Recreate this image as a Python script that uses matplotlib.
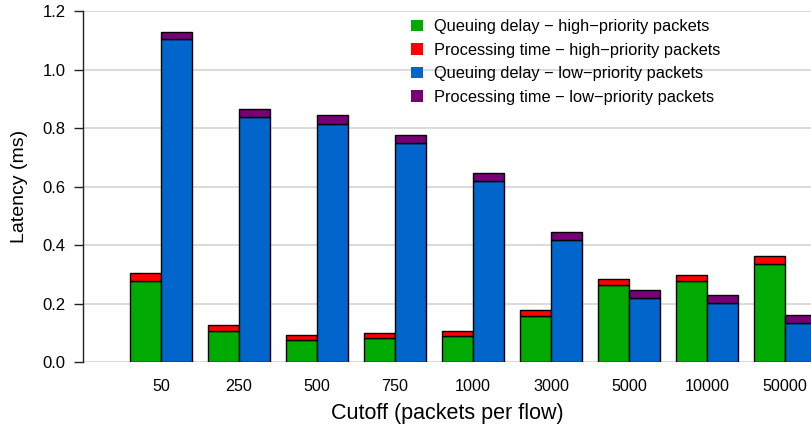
import matplotlib
matplotlib.use("Agg")
import matplotlib.pyplot as plt
import numpy as np
from matplotlib.patches import Patch

plt.rcParams['font.family'] = ['Liberation Sans', 'DejaVu Sans']

cutoffs = ["50", "250", "500", "750", "1000", "3000", "5000", "10000", "50000"]
queue_high = [0.276, 0.106, 0.074, 0.081, 0.090, 0.158, 0.264, 0.276, 0.337]
proc_high = [0.028, 0.021, 0.018, 0.017, 0.017, 0.019, 0.020, 0.021, 0.024]
queue_low = [1.103, 0.837, 0.813, 0.749, 0.619, 0.416, 0.219, 0.201, 0.132]
proc_low = [0.025, 0.029, 0.030, 0.029, 0.029, 0.028, 0.028, 0.029, 0.030]

labels = [
    "Queuing delay \u2212 high\u2212priority packets",
    "Processing time \u2212 high\u2212priority packets",
    "Queuing delay \u2212 low\u2212priority packets",
    "Processing time \u2212 low\u2212priority packets",
]
colors = ["#00AA00", "#FF0000", "#0066CC", "#770077"]

fig = plt.figure(figsize=(8.11, 4.25), dpi=100)
ax = fig.add_axes([0.1023, 0.148, 0.8977, 0.826])

x = np.arange(len(cutoffs))
w = 0.4
ekw = dict(edgecolor="black", linewidth=1.0, zorder=3)
ax.bar(x - w / 2, queue_high, w, color=colors[0], **ekw)
ax.bar(x - w / 2, proc_high, w, bottom=queue_high, color=colors[1], **ekw)
ax.bar(x + w / 2, queue_low, w, color=colors[2], **ekw)
ax.bar(x + w / 2, proc_low, w, bottom=queue_low, color=colors[3], **ekw)

ax.set_xlim(-1.0, 8.33)
ax.set_ylim(0, 1.2)
ax.set_yticks([0.0, 0.2, 0.4, 0.6, 0.8, 1.0, 1.2])
ax.set_yticklabels(["0.0", "0.2", "0.4", "0.6", "0.8", "1.0", "1.2"])
ax.set_xticks(x)
ax.set_xticklabels(cutoffs)
ax.tick_params(axis="x", length=0, pad=12, labelsize=11.6)
ax.tick_params(axis="y", length=6.5, width=1, pad=6, labelsize=12, color="#222222")

for v in [0.0, 0.2, 0.4, 0.6, 0.8, 1.0, 1.2]:
    ax.axhline(v, color="#d4d4d4", linewidth=1.2, zorder=0)

for s in ["top", "right", "bottom"]:
    ax.spines[s].set_visible(False)
ax.spines["left"].set_color("#222222")
ax.spines["left"].set_linewidth(1.0)

ax.set_xlabel("Cutoff (packets per flow)", fontsize=15.5, labelpad=7)
ax.set_ylabel("Latency (ms)", fontsize=14, labelpad=10.5)

handles = [Patch(facecolor=c, edgecolor="none") for c in colors]
leg = ax.legend(handles, labels, loc="upper left", bbox_to_anchor=(0.437, 1.005),
                frameon=False, fontsize=11.8, handlelength=0.73, handleheight=0.73,
                handletextpad=0.67, labelspacing=0.52, borderaxespad=0.2)
leg.set_zorder(5)

fig.savefig("out.png", dpi=100)
